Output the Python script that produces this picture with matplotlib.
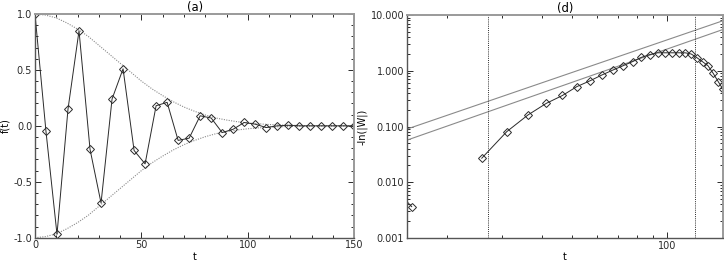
import numpy as np
import matplotlib
matplotlib.use("Agg")
import matplotlib.pyplot as plt
from matplotlib.ticker import FixedLocator, NullFormatter, MultipleLocator

plt.rcParams['font.family'] = ['DejaVu Sans']
plt.rcParams['font.size'] = 7

# panel (a): sampled signal
t_a = np.linspace(0, 150, 30)
f_a = [1.0, -0.05, -0.97, 0.15, 0.85, -0.21, -0.69, 0.24, 0.51, -0.22,
       -0.34, 0.18, 0.21, -0.13, -0.11, 0.09, 0.07, -0.06, -0.03, 0.03,
       0.015, -0.015, 0.0, 0.005, 0.0, 0.0, 0.0, 0.0, 0.0, 0.0]

# envelope
t_env = np.arange(0, 155, 5)
env = [1.0, 0.99, 0.965, 0.92, 0.865, 0.80, 0.72, 0.64, 0.56, 0.48,
       0.40, 0.33, 0.27, 0.215, 0.168, 0.13, 0.097, 0.07, 0.052, 0.037,
       0.026, 0.018, 0.012, 0.008, 0.005, 0.003, 0.002, 0.001, 0.0006,
       0.0003, 0.0002]

# panel (d): -ln|W| (t index 2..29, NaN where missing)
t_d = t_a[2:]
w_d = [0.042, 0.00365, np.nan, 0.027, 0.081, 0.161, 0.26, 0.36, 0.52,
       0.66, 0.84, 1.03, 1.23, 1.46, 1.74, 1.95, 2.1, 2.1, 2.1, 2.1,
       2.1, 2.0, 1.71, 1.45, 1.23, 0.90, 0.64, 0.465]

# reference power-law lines (end points)
t_line = [15, 150]
upper_line = [0.090, 7.9]
lower_line = [0.057, 5.5]
vlines_d = [27.0, 122.6]

ytick_d = [0.001, 0.01, 0.1, 1.0, 10.0]
ytick_d_labels = ["0.001", "0.010", "0.100", "1.000", "10.000"]

ink = "#2a2a2a"
grey = "#8a8a8a"

fig = plt.figure(figsize=(7.24, 2.62), dpi=100)
ax1 = fig.add_axes([0.0483, 0.0927, 0.4411, 0.8539])
ax2 = fig.add_axes([0.5622, 0.0916, 0.4364, 0.8511])

# --- (a) ---
env = np.array(env)
ax1.plot(t_env, env, ls=(0, (1, 1.2)), color=grey, lw=0.8)
ax1.plot(t_env, -env, ls=(0, (1, 1.2)), color=grey, lw=0.8)
ax1.plot(t_a, f_a, color=ink, lw=0.7, marker='D', ms=4.0, mfc='none',
         mec=ink, mew=0.7)
ax1.set_xlim(0, 150)
ax1.set_ylim(-1, 1)
ax1.set_xticks([0, 50, 100, 150], ["0", "50", "100", "150"])
ax1.xaxis.set_minor_locator(MultipleLocator(10))
ax1.set_yticks([-1, -0.5, 0, 0.5, 1.0], ["-1.0", "-0.5", "0.0", "0.5", "1.0"])
ax1.yaxis.set_minor_locator(MultipleLocator(0.1))
ax1.set_xlabel("t", labelpad=1)
ax1.set_ylabel("f(t)", labelpad=2)
ax1.set_title("(a)", pad=1.5)

# --- (d) ---
ax2.set_xscale('log')
ax2.set_yscale('log')
ax2.plot(t_line, upper_line, color=grey, lw=0.8)
ax2.plot(t_line, lower_line, color=grey, lw=0.8)
for v in vlines_d:
    ax2.axvline(v, color=ink, ls=(0, (1, 1.2)), lw=0.7)
ax2.plot(t_d, w_d, color=ink, lw=0.7, marker='D', ms=4.0, mfc='none',
         mec=ink, mew=0.7)
ax2.set_xlim(15, 150)
ax2.set_ylim(0.001, 10)
ax2.set_xticks([100], ["100"])
ax2.xaxis.set_minor_locator(FixedLocator([20, 30, 40, 50, 60, 70, 80, 90]))
ax2.xaxis.set_minor_formatter(NullFormatter())
ax2.set_yticks(ytick_d, ytick_d_labels)
ax2.yaxis.set_minor_locator(FixedLocator(
    [m * 10.0 ** e for e in range(-3, 1) for m in range(2, 10)]))
ax2.yaxis.set_minor_formatter(NullFormatter())
ax2.set_xlabel("t", labelpad=1)
ax2.set_ylabel("-ln(|W|)", labelpad=2)
ax2.set_title("(d)", pad=1.5)

for ax in (ax1, ax2):
    ax.tick_params(which='both', direction='in', top=True, right=True,
                   colors=ink, labelcolor=ink, width=0.7, pad=2)
    ax.tick_params(which='major', length=4)
    ax.tick_params(which='minor', length=2.2)
    for side in ('top', 'right'):
        ax.spines[side].set_color("#9a9a9a")
        ax.spines[side].set_linewidth(1.4)
    for side in ('left', 'bottom'):
        ax.spines[side].set_color("#555555")
        ax.spines[side].set_linewidth(1.0)

fig.savefig("out.png", dpi=100)
